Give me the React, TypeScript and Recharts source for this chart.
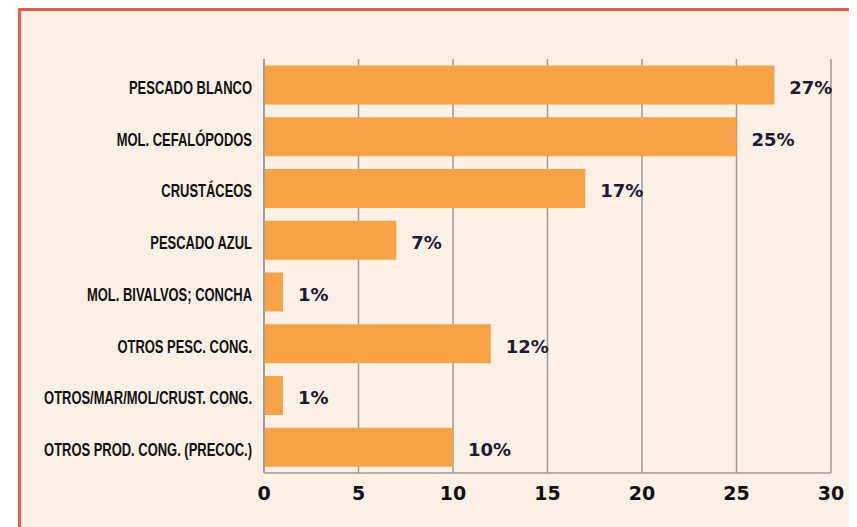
import { BarChart, Bar, XAxis, YAxis, CartesianGrid, LabelList } from "recharts";

const categories = [
	"PESCADO BLANCO",
	"MOL. CEFALÓPODOS",
	"CRUSTÁCEOS",
	"PESCADO AZUL",
	"MOL. BIVALVOS; CONCHA",
	"OTROS PESC. CONG.",
	"OTROS/MAR/MOL/CRUST. CONG.",
	"OTROS PROD. CONG. (PRECOC.)",
];
const shares = [27, 25, 17, 7, 1, 12, 1, 10];
const xTicks = [0, 5, 10, 15, 20, 25, 30];

const data = categories.map((name, i) => ({ name, value: shares[i] }));

// labels in the original are a condensed bold face, so squeeze a normal bold one
const narrowTick = (props: any) => {
	const { x, y, payload } = props;
	return (
		<g transform={`translate(${x},${y})`}>
			<text
				transform="scale(0.72,1)"
				textAnchor="end"
				dy="0.5em"
				fill="#111"
				fontSize={18}
				fontWeight="bold"
				fontFamily="Liberation Sans, Arial, sans-serif"
			>
				{payload.value}
			</text>
		</g>
	);
};

const valueLabel = (props: any) => {
	const { x, y, width, height, value } = props;
	return (
		<text
			x={x + width + 15}
			y={y + height / 2}
			dy="0.5em"
			fill="#1c1c34"
			fontSize={18}
			fontWeight="bold"
			fontFamily="DejaVu Sans, sans-serif"
		>
			{value}%
		</text>
	);
};

export default function App() {
	return (
		<div
			style={{
				marginLeft: 10,
				width: 829,
				height: 530,
				border: "3px solid #ef5a48",
				background: "#fdf0e7",
			}}
		>
			<BarChart
				width={829}
				height={516}
				data={data}
				layout="vertical"
				barCategoryGap="12.5%"
				margin={{ top: 48, right: 19, left: 3, bottom: 24 }}
			>
				<CartesianGrid horizontal={false} stroke="#9a9a9a" strokeWidth={1.5} />
				<XAxis
					type="number"
					domain={[0, 30]}
					ticks={xTicks}
					height={30}
					axisLine={{ stroke: "#9a9a9a", strokeWidth: 1.5 }}
					tickLine={false}
					tickMargin={8}
					tick={{
						fill: "#111",
						fontSize: 19,
						fontWeight: "bold",
						fontFamily: "DejaVu Sans, sans-serif",
					}}
				/>
				<YAxis
					type="category"
					dataKey="name"
					width={240}
					axisLine={{ stroke: "#9a9a9a", strokeWidth: 1.5 }}
					tickLine={false}
					tickMargin={6}
					interval={0}
					tick={narrowTick}
				/>
				<Bar dataKey="value" fill="#f6a245" isAnimationActive={false}>
					<LabelList dataKey="value" content={valueLabel} />
				</Bar>
			</BarChart>
		</div>
	);
}
